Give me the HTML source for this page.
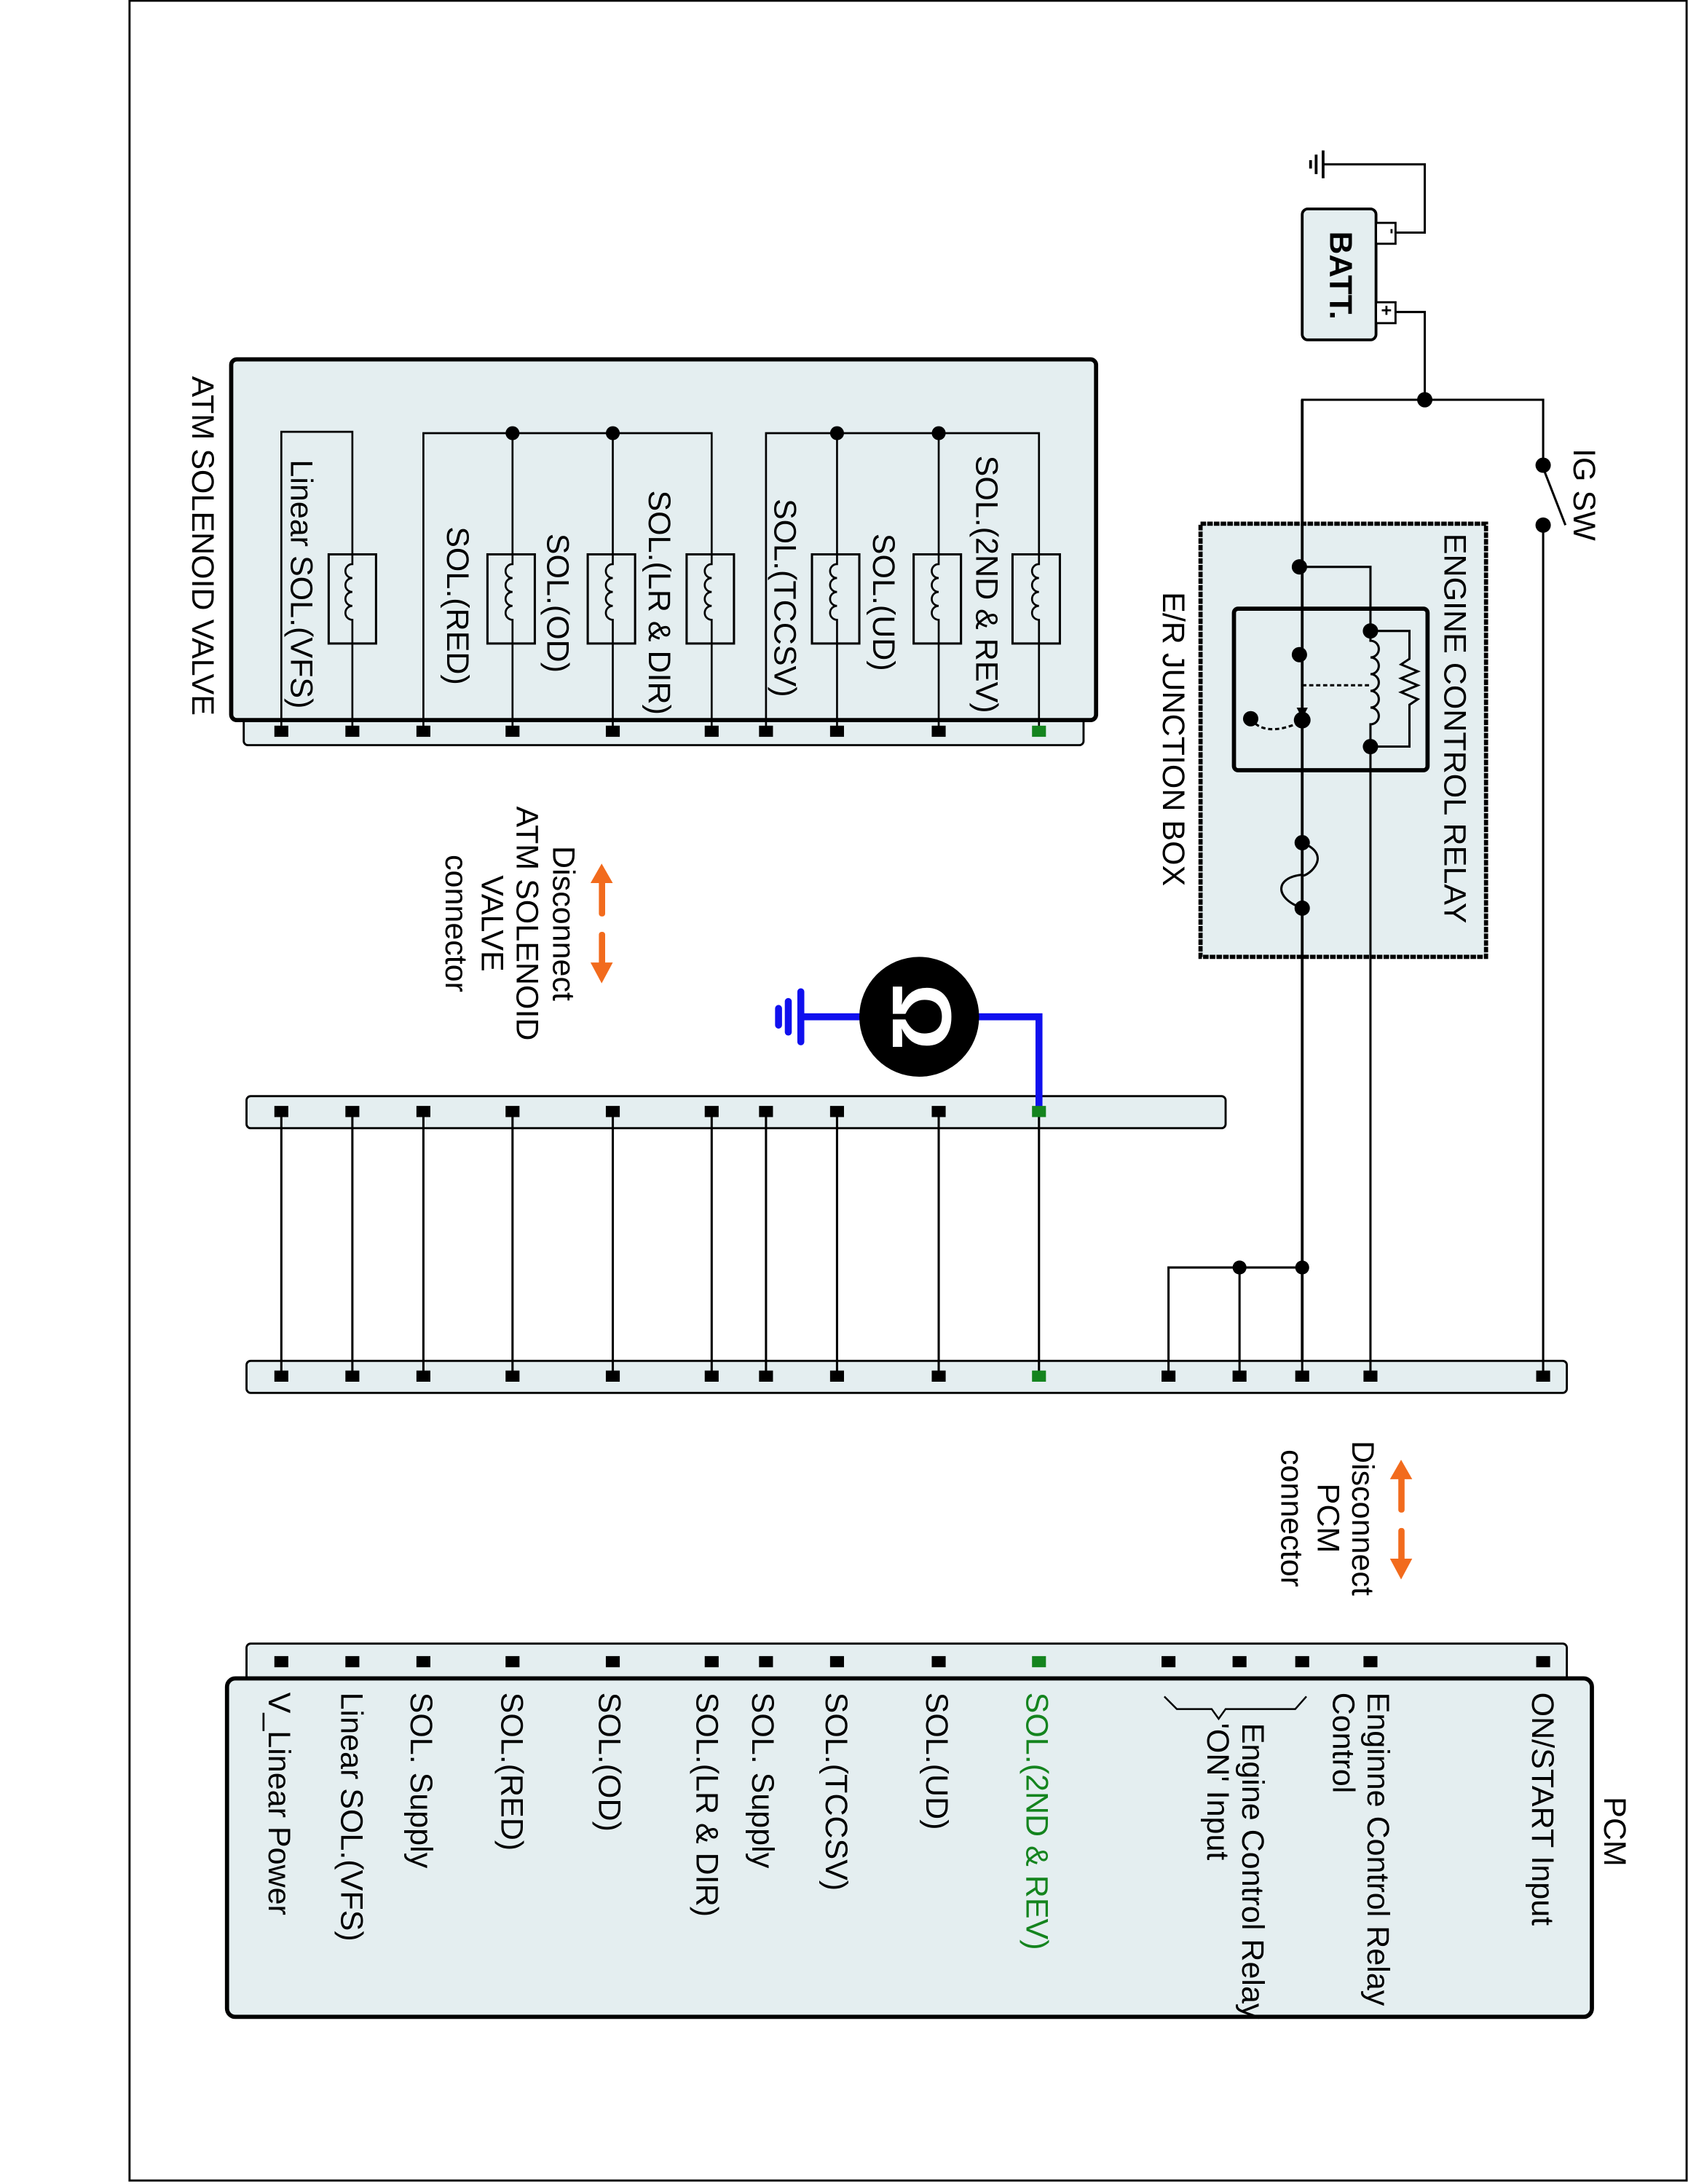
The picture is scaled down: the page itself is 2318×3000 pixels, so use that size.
<!DOCTYPE html>
<html><head><meta charset="utf-8"><style>
html,body{margin:0;padding:0;background:#fff;}
svg{display:block;}
text{font-family:"Liberation Sans",Arial,sans-serif;font-size:22.5px;fill:#000;}
</style></head><body>
<svg width="2318" height="3000" viewBox="0 0 1212 1568" preserveAspectRatio="none" xmlns="http://www.w3.org/2000/svg">
<rect x="93" y="0.5" width="1118" height="1565" fill="none" stroke="#000" stroke-width="1.5"/>

<!-- Battery -->
<rect x="935" y="150" width="53" height="94" rx="4" fill="#e4eef0" stroke="#000" stroke-width="2"/>
<rect x="988" y="160" width="14" height="15" fill="#fff" stroke="#000" stroke-width="1.5"/>
<rect x="988" y="217" width="14" height="15" fill="#fff" stroke="#000" stroke-width="1.5"/>
<text transform="translate(996,164) rotate(90)" style="font-size:12px;font-weight:bold">-</text>
<text transform="translate(991,219) rotate(90)" style="font-size:13px;font-weight:bold">+</text>
<text transform="translate(955,166) rotate(90)" style="font-size:23px;font-weight:bold">BATT.</text>
<g fill="none" stroke="#000" stroke-width="1.6">
<polyline points="1002,167 1023,167 1023,118 950,118"/>
<line x1="950" y1="108" x2="950" y2="128" stroke-width="2"/>
<line x1="945" y1="111" x2="945" y2="125" stroke-width="2"/>
<line x1="941" y1="115" x2="941" y2="121" stroke-width="2"/>
<polyline points="1002,224 1023,224 1023,287"/>
<polyline points="935,988 935,287 1108,287 1108,333"/>
<line x1="1108" y1="336" x2="1124" y2="377"/>
<line x1="1108" y1="377" x2="1108" y2="988"/>
</g>
<circle cx="1023" cy="287" r="5.5"/>
<circle cx="1108" cy="334" r="5.5"/>
<circle cx="1108" cy="377" r="5.5"/>
<text transform="translate(1130,322) rotate(90)">IG SW</text>

<!-- E/R junction box -->
<rect x="862" y="376" width="205" height="311" fill="#e4eef0" stroke="#000" stroke-width="3" stroke-dasharray="4 0.8"/>
<text transform="translate(1037,383) rotate(90)">ENGINE CONTROL RELAY</text>
<text transform="translate(835,425) rotate(90)">E/R JUNCTION BOX</text>
<rect x="886" y="437" width="139" height="116" rx="3" fill="none" stroke="#000" stroke-width="3"/>
<g fill="none" stroke="#000" stroke-width="1.6">
<line x1="935" y1="287" x2="935" y2="988" stroke-width="2"/>
<polyline points="935,407 984,407 984,453"/>
<line x1="984" y1="536" x2="984" y2="988"/>
<path d="M984,453 L984,460 a6,6 0 0 1 0,12 a6,6 0 0 1 0,12 a6,6 0 0 1 0,12 a6,6 0 0 1 0,12 a6,6 0 0 1 0,12 L984,536"/>
<polyline points="984,453 1012,453 1012,473 1006,477 1018,482 1006,487 1018,492 1006,497 1018,502 1012,506 1012,536 984,536"/>
<line x1="935" y1="492" x2="984" y2="492" stroke-dasharray="3 2"/>
<path d="M898,516 Q908,530 935,518" stroke-dasharray="3 2"/>
<path d="M935,605 C960,615 935,632 935,628 C915,630 915,645 935,652"/>
</g>
<polygon points="931,508 939,508 935,516"/>
<circle cx="933" cy="407" r="5.5"/>
<circle cx="933" cy="470" r="5.5"/>
<circle cx="935" cy="517" r="6"/>
<circle cx="898" cy="516" r="5.5"/>
<circle cx="984" cy="453" r="5.5"/>
<circle cx="984" cy="536" r="5.5"/>
<circle cx="935" cy="605" r="5.5"/>
<circle cx="935" cy="652" r="5.5"/>

<!-- ATM solenoid valve -->
<rect x="175" y="510" width="603" height="25" rx="3" fill="#e4eef0" stroke="#000" stroke-width="1.5"/>
<rect x="166" y="258" width="621" height="259" rx="4" fill="#e4eef0" stroke="#000" stroke-width="3"/>
<text transform="translate(138,270) rotate(90)">ATM SOLENOID VALVE</text>
<g fill="none" stroke="#000" stroke-width="1.4">
<polyline points="202,525 202,310 253,310 253,525"/>
<polyline points="304,525 304,311 511,311 511,525"/>
<line x1="368" y1="311" x2="368" y2="525"/><line x1="440" y1="311" x2="440" y2="525"/>
<polyline points="550,525 550,311 746,311 746,525"/>
<line x1="601" y1="311" x2="601" y2="525"/><line x1="674" y1="311" x2="674" y2="525"/>
</g>
<g fill="#e4eef0" stroke="#000" stroke-width="1.6">
<rect x="236" y="398" width="34" height="64"/>
<rect x="350" y="398" width="34" height="64"/>
<rect x="422" y="398" width="34" height="64"/>
<rect x="493" y="398" width="34" height="64"/>
<rect x="583" y="398" width="34" height="64"/>
<rect x="656" y="398" width="34" height="64"/>
<rect x="727" y="398" width="34" height="64"/>
</g>
<g fill="none" stroke="#000" stroke-width="1.4">
<path d="M253,398 L253,405 a5,5 0 0 0 0,10 a5,5 0 0 0 0,10 a5,5 0 0 0 0,10 a5,5 0 0 0 0,10 L253,462"/>
<path d="M368,398 L368,405 a5,5 0 0 0 0,10 a5,5 0 0 0 0,10 a5,5 0 0 0 0,10 a5,5 0 0 0 0,10 L368,462"/>
<path d="M440,398 L440,405 a5,5 0 0 0 0,10 a5,5 0 0 0 0,10 a5,5 0 0 0 0,10 a5,5 0 0 0 0,10 L440,462"/>
<path d="M511,398 L511,405 a5,5 0 0 0 0,10 a5,5 0 0 0 0,10 a5,5 0 0 0 0,10 a5,5 0 0 0 0,10 L511,462"/>
<path d="M601,398 L601,405 a5,5 0 0 0 0,10 a5,5 0 0 0 0,10 a5,5 0 0 0 0,10 a5,5 0 0 0 0,10 L601,462"/>
<path d="M674,398 L674,405 a5,5 0 0 0 0,10 a5,5 0 0 0 0,10 a5,5 0 0 0 0,10 a5,5 0 0 0 0,10 L674,462"/>
<path d="M746,398 L746,405 a5,5 0 0 0 0,10 a5,5 0 0 0 0,10 a5,5 0 0 0 0,10 a5,5 0 0 0 0,10 L746,462"/>
</g>
<circle cx="368" cy="311" r="5"/><circle cx="440" cy="311" r="5"/>
<circle cx="601" cy="311" r="5"/><circle cx="674" cy="311" r="5"/>
<text transform="translate(209,330) rotate(90)">Linear SOL.(VFS)</text>
<text transform="translate(321,378) rotate(90)">SOL.(RED)</text>
<text transform="translate(393,383) rotate(90)">SOL.(OD)</text>
<text transform="translate(466,352) rotate(90)">SOL.(LR &amp; DIR)</text>
<text transform="translate(556,358) rotate(90)">SOL.(TCCSV)</text>
<text transform="translate(627,383) rotate(90)">SOL.(UD)</text>
<text transform="translate(701,327) rotate(90)">SOL.(2ND &amp; REV)</text>
<g>
<rect x="197" y="521" width="10" height="8"/><rect x="248" y="521" width="10" height="8"/><rect x="299" y="521" width="10" height="8"/><rect x="363" y="521" width="10" height="8"/><rect x="435" y="521" width="10" height="8"/><rect x="506" y="521" width="10" height="8"/><rect x="545" y="521" width="10" height="8"/><rect x="596" y="521" width="10" height="8"/><rect x="669" y="521" width="10" height="8"/><rect x="741" y="521" width="10" height="8" fill="#14841e"/>
</g>

<!-- Disconnect arrows -->
<g fill="#f26b1d" stroke="none">
<rect x="430" y="628" width="4.5" height="30" rx="2"/>
<polygon points="424,634 440,634 432,620"/>
<rect x="430" y="669" width="4.5" height="28" rx="2"/>
<polygon points="424,691 440,691 432,706"/>
<rect x="1004" y="1056" width="4.5" height="30" rx="2"/>
<polygon points="998,1062 1014,1062 1006,1048"/>
<rect x="1004" y="1097" width="4.5" height="28" rx="2"/>
<polygon points="998,1119 1014,1119 1006,1134"/>
</g>
<g text-anchor="middle">
<text transform="translate(397,663) rotate(90)">Disconnect</text>
<text transform="translate(371,663) rotate(90)">ATM SOLENOID</text>
<text transform="translate(346,663) rotate(90)">VALVE</text>
<text transform="translate(320,663) rotate(90)">connector</text>
<text transform="translate(971,1090) rotate(90)">Disconnect</text>
<text transform="translate(946,1090) rotate(90)">PCM</text>
<text transform="translate(920,1090) rotate(90)">connector</text>
</g>

<!-- Middle connector + ground meter -->
<rect x="177" y="787" width="703" height="23" rx="3" fill="#e4eef0" stroke="#000" stroke-width="1.5"/>
<g stroke="#000" stroke-width="1.6">
<line x1="202" y1="798" x2="202" y2="988"/><line x1="253" y1="798" x2="253" y2="988"/><line x1="304" y1="798" x2="304" y2="988"/><line x1="368" y1="798" x2="368" y2="988"/><line x1="440" y1="798" x2="440" y2="988"/><line x1="511" y1="798" x2="511" y2="988"/><line x1="550" y1="798" x2="550" y2="988"/><line x1="601" y1="798" x2="601" y2="988"/><line x1="674" y1="798" x2="674" y2="988"/><line x1="746" y1="798" x2="746" y2="988"/>
</g>
<g>
<rect x="197" y="794" width="10" height="8"/><rect x="248" y="794" width="10" height="8"/><rect x="299" y="794" width="10" height="8"/><rect x="363" y="794" width="10" height="8"/><rect x="435" y="794" width="10" height="8"/><rect x="506" y="794" width="10" height="8"/><rect x="545" y="794" width="10" height="8"/><rect x="596" y="794" width="10" height="8"/><rect x="669" y="794" width="10" height="8"/>
</g>
<g fill="none" stroke="#1010ee" stroke-width="5" stroke-linecap="round">
<polyline points="746,796 746,730 700,730"/>
<line x1="620" y1="730" x2="575" y2="730"/>
<line x1="575" y1="712" x2="575" y2="748"/>
<line x1="566" y1="719" x2="566" y2="741"/>
<line x1="559" y1="724" x2="559" y2="736"/>
</g>
<rect x="741" y="794" width="10" height="8" fill="#14841e"/>
<circle cx="660" cy="730" r="43"/>
<text transform="translate(641,730) rotate(90)" text-anchor="middle" style="font-size:60px;font-weight:bold;fill:#fff">Ω</text>

<!-- Lower connector -->
<g fill="none" stroke="#000" stroke-width="1.6">
<polyline points="839,988 839,910 935,910"/>
<line x1="890" y1="910" x2="890" y2="988"/>
</g>
<circle cx="890" cy="910" r="5"/><circle cx="935" cy="910" r="5"/>
<rect x="177" y="977" width="948" height="23" rx="3" fill="#e4eef0" stroke="#000" stroke-width="1.5"/>
<g stroke="#000" stroke-width="1.6">
<line x1="202" y1="977" x2="202" y2="988"/><line x1="253" y1="977" x2="253" y2="988"/><line x1="304" y1="977" x2="304" y2="988"/><line x1="368" y1="977" x2="368" y2="988"/><line x1="440" y1="977" x2="440" y2="988"/><line x1="511" y1="977" x2="511" y2="988"/><line x1="550" y1="977" x2="550" y2="988"/><line x1="601" y1="977" x2="601" y2="988"/><line x1="674" y1="977" x2="674" y2="988"/><line x1="746" y1="977" x2="746" y2="988"/><line x1="839" y1="977" x2="839" y2="988"/><line x1="890" y1="977" x2="890" y2="988"/><line x1="935" y1="977" x2="935" y2="988"/><line x1="984" y1="977" x2="984" y2="988"/><line x1="1108" y1="977" x2="1108" y2="988"/>
</g>
<g>
<rect x="197" y="984" width="10" height="8"/><rect x="248" y="984" width="10" height="8"/><rect x="299" y="984" width="10" height="8"/><rect x="363" y="984" width="10" height="8"/><rect x="435" y="984" width="10" height="8"/><rect x="506" y="984" width="10" height="8"/><rect x="545" y="984" width="10" height="8"/><rect x="596" y="984" width="10" height="8"/><rect x="669" y="984" width="10" height="8"/><rect x="741" y="984" width="10" height="8" fill="#14841e"/><rect x="834" y="984" width="10" height="8"/><rect x="885" y="984" width="10" height="8"/><rect x="930" y="984" width="10" height="8"/><rect x="979" y="984" width="10" height="8"/><rect x="1103" y="984" width="10" height="8"/>
</g>

<!-- PCM -->
<rect x="177" y="1180" width="948" height="35" rx="3" fill="#e4eef0" stroke="#000" stroke-width="1.5"/>
<g>
<rect x="197" y="1189" width="10" height="8"/><rect x="248" y="1189" width="10" height="8"/><rect x="299" y="1189" width="10" height="8"/><rect x="363" y="1189" width="10" height="8"/><rect x="435" y="1189" width="10" height="8"/><rect x="506" y="1189" width="10" height="8"/><rect x="545" y="1189" width="10" height="8"/><rect x="596" y="1189" width="10" height="8"/><rect x="669" y="1189" width="10" height="8"/><rect x="741" y="1189" width="10" height="8" fill="#14841e"/><rect x="834" y="1189" width="10" height="8"/><rect x="885" y="1189" width="10" height="8"/><rect x="930" y="1189" width="10" height="8"/><rect x="979" y="1189" width="10" height="8"/><rect x="1103" y="1189" width="10" height="8"/>
</g>
<rect x="163" y="1205" width="980" height="243" rx="6" fill="#e4eef0" stroke="#000" stroke-width="3"/>
<text transform="translate(1152,1290) rotate(90)">PCM</text>
<text transform="translate(1100,1215) rotate(90)">ON/START Input</text>
<text transform="translate(982,1215) rotate(90)">Enginne Control Relay</text>
<text transform="translate(957,1215) rotate(90)">Control</text>
<polyline points="836,1218 845,1227 870,1227 875,1234 880,1227 930,1227 938,1218" fill="none" stroke="#000" stroke-width="1.3"/>
<text transform="translate(892,1237) rotate(90)">Engine Control Relay</text>
<text transform="translate(867,1237) rotate(90)">'ON' Input</text>
<text transform="translate(737,1215) rotate(90)" style="fill:#14841e">SOL.(2ND &amp; REV)</text>
<text transform="translate(665,1215) rotate(90)">SOL.(UD)</text>
<text transform="translate(593,1215) rotate(90)">SOL.(TCCSV)</text>
<text transform="translate(540,1215) rotate(90)">SOL. Supply</text>
<text transform="translate(500,1215) rotate(90)">SOL.(LR &amp; DIR)</text>
<text transform="translate(430,1215) rotate(90)">SOL.(OD)</text>
<text transform="translate(360,1215) rotate(90)">SOL.(RED)</text>
<text transform="translate(295,1215) rotate(90)">SOL. Supply</text>
<text transform="translate(245,1215) rotate(90)">Linear SOL.(VFS)</text>
<text transform="translate(193,1215) rotate(90)">V_Linear Power</text>
</svg>
</body></html>
